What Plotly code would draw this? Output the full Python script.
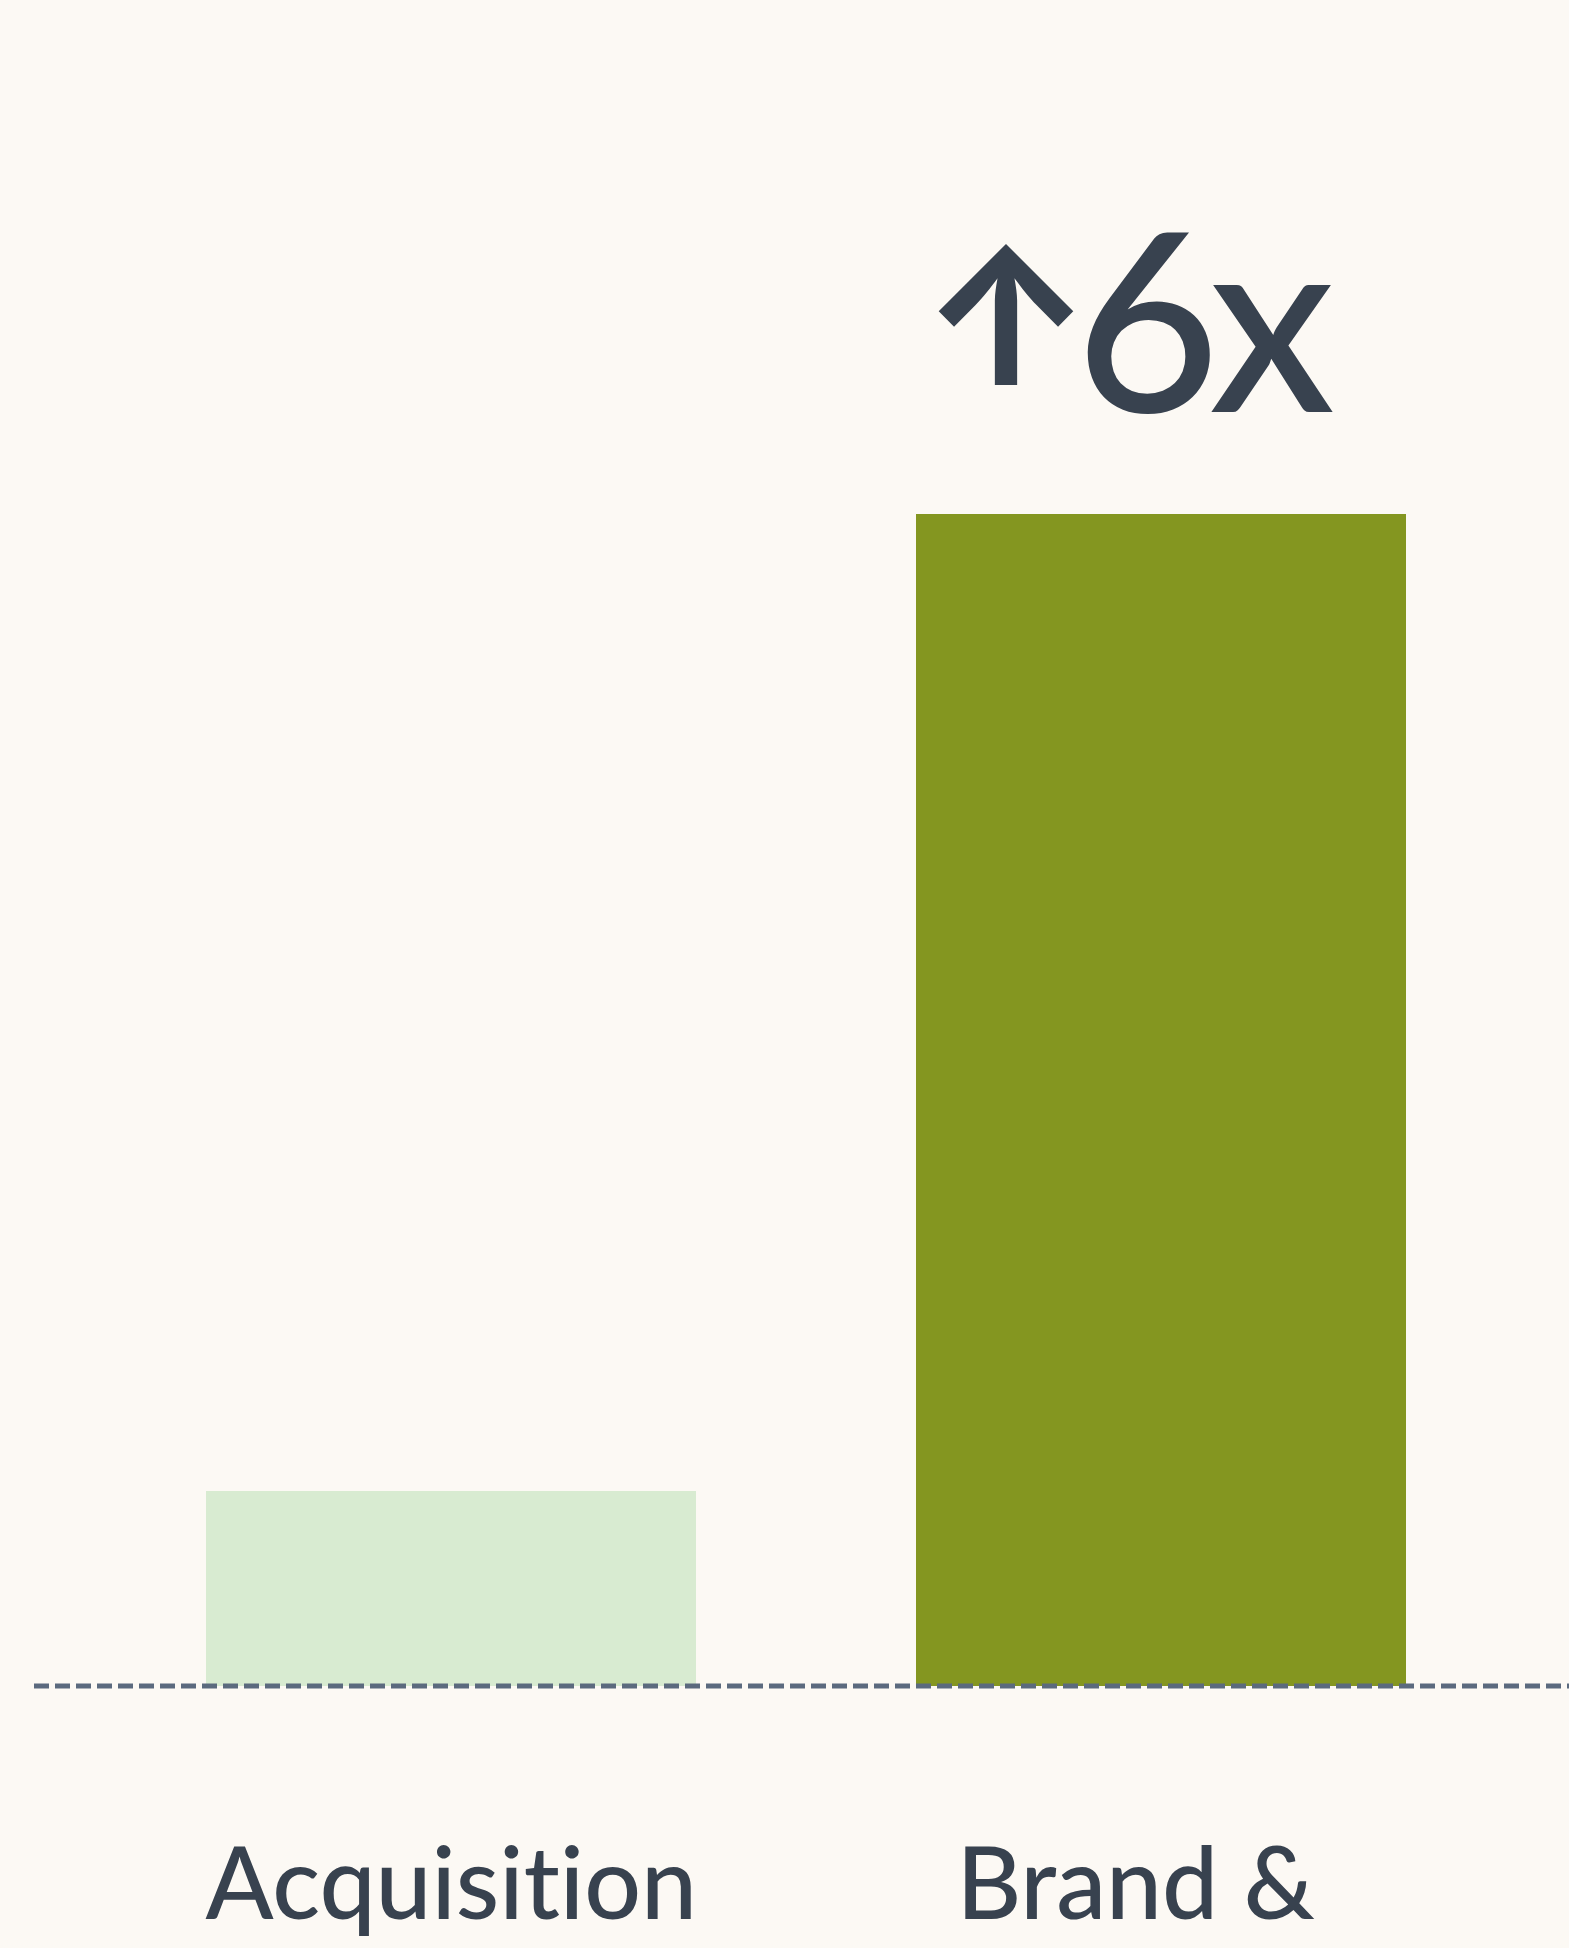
import plotly.graph_objects as go

categories = ["Acquisit\u200cion", "Brand &\u00a0\u00a0"]
values = [1, 6]
bar_colors = ["#d8ebd1", "#849620"]
callout_arrow = "↑"
callout_number = "6"
callout_suffix = "x"

BG = "#fcf9f4"
TEXT = "#38424f"
LINE = "#5b6a7e"

fig = go.Figure()
fig.add_trace(go.Bar(
    x=list(range(len(categories))),
    y=values,
    width=0.69,
    marker=dict(color=bar_colors, line=dict(width=0)),
    hoverinfo="skip",
))

fig.add_shape(type="line", xref="paper", yref="y", x0=0, x1=1, y0=0, y1=0,
              line=dict(color=LINE, width=5, dash="15px,6px"), layer="above")

arrow_span = ("<span style='font-family:Inter;font-size:190px;font-weight:700;"
              "baseline-shift:27px;letter-spacing:-17px'>" + callout_arrow + "</span>")
num_span = "<span style='letter-spacing:-11px'>" + callout_number + "</span>"
fig.add_annotation(x=1, y=values[1], xref="x", yref="y",
                   text=arrow_span + num_span + callout_suffix,
                   showarrow=False, xanchor="left", xshift=-243, yshift=47,
                   yanchor="bottom",
                   font=dict(family="Lato", size=250, color=TEXT, weight=500))

fig.update_layout(
    width=1569, height=1948,
    margin=dict(l=34, r=0, t=0, b=252),
    paper_bgcolor=BG, plot_bgcolor=BG,
    showlegend=False,
    bargap=0,
    xaxis=dict(range=[-0.588, 1.575], tickmode="array",
               tickvals=list(range(len(categories))), ticktext=categories,
               showgrid=False, zeroline=False, showline=False, ticks="",
               ticklabelstandoff=122,
               tickfont=dict(family="Lato", size=100, color=TEXT, weight=500)),
    yaxis=dict(range=[-0.0512, 8.63], visible=False, showgrid=False, zeroline=False),
)

fig.write_html("out.html")
